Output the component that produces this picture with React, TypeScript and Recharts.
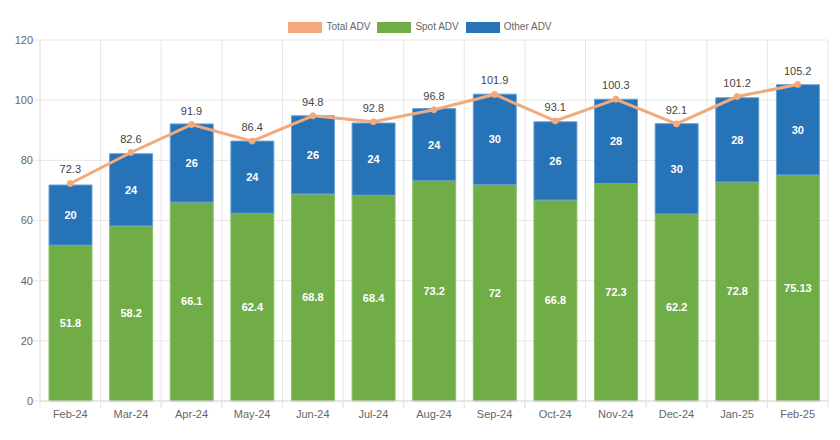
import {
  ComposedChart,
  Bar,
  Line,
  XAxis,
  YAxis,
  CartesianGrid,
  LabelList,
} from "recharts";

const months = ["Feb-24", "Mar-24", "Apr-24", "May-24", "Jun-24", "Jul-24", "Aug-24", "Sep-24", "Oct-24", "Nov-24", "Dec-24", "Jan-25", "Feb-25"];
const spotAdv = [51.8, 58.2, 66.1, 62.4, 68.8, 68.4, 73.2, 72, 66.8, 72.3, 62.2, 72.8, 75.13];
const otherAdv = [20, 24, 26, 24, 26, 24, 24, 30, 26, 28, 30, 28, 30];
const totalAdv = [72.3, 82.6, 91.9, 86.4, 94.8, 92.8, 96.8, 101.9, 93.1, 100.3, 92.1, 101.2, 105.2];
const yTicks = [0, 20, 40, 60, 80, 100, 120];

const legendItems = [
  { name: "Total ADV", color: "#F2A97C" },
  { name: "Spot ADV", color: "#70AD47" },
  { name: "Other ADV", color: "#2773B8" },
];

const data = months.map((m, i) => ({
  month: m,
  spot: spotAdv[i],
  other: otherAdv[i],
  total: totalAdv[i],
}));

const W = 840;
const H = 440;
const margin = { top: 40, right: 12, bottom: 0, left: 0 };
const yAxisWidth = 40;
const plotW = W - margin.left - margin.right - yAxisWidth;
const band = plotW / months.length;
const font = "'Liberation Sans', Arial, Helvetica, sans-serif";
const gridColor = "#e6e6e6";

function XTick(props: any) {
  const { x, y, payload } = props;
  return (
    <g>
      <line x1={x - band / 2} x2={x - band / 2} y1={y - 8} y2={y - 1} stroke={gridColor} />
      <line x1={x + band / 2} x2={x + band / 2} y1={y - 8} y2={y - 1} stroke={gridColor} />
      <text x={x} y={y + 9} textAnchor="middle" fill="#666" fontSize={11} fontFamily={font}>
        {payload.value}
      </text>
    </g>
  );
}

export default function App() {
  return (
    <div style={{ position: "relative", width: W, height: H, margin: -8, background: "#fff", fontFamily: font }}>
      <div
        style={{
          position: "absolute",
          top: 21,
          left: 0,
          width: W,
          display: "flex",
          justifyContent: "center",
          gap: 7,
          fontSize: 10,
          lineHeight: "12px",
          color: "#666",
          zIndex: 1,
        }}
      >
        {legendItems.map((it) => (
          <div key={it.name} style={{ display: "flex", alignItems: "center", gap: 4 }}>
            <span style={{ display: "inline-block", width: 34, height: 11, background: it.color }} />
            <span>{it.name}</span>
          </div>
        ))}
      </div>
      <ComposedChart width={W} height={H} data={data} margin={margin}>
        <CartesianGrid
          stroke={gridColor}
          verticalCoordinatesGenerator={({ offset }: any) =>
            months.map((_, i) => offset.left + i * band).concat([offset.left + plotW])
          }
        />
        <XAxis
          dataKey="month"
          height={39}
          axisLine={{ stroke: "#d9d9d9" }}
          tickLine={false}
          tick={<XTick />}
          interval={0}
        />
        <YAxis
          width={yAxisWidth}
          domain={[0, 120]}
          ticks={yTicks}
          axisLine={{ stroke: gridColor }}
          tickLine={{ stroke: gridColor }}
          tickSize={7}
          tickMargin={0}
          tick={{ fill: "#666", fontSize: 11, fontFamily: font }}
        />
        <Bar dataKey="spot" stackId="a" fill="#70AD47" stroke="#8cc26a" strokeWidth={1} barSize={43} isAnimationActive={false}>
          <LabelList dataKey="spot" position="center" fill="#fff" fontSize={11} fontWeight="bold" fontFamily={font} />
        </Bar>
        <Bar dataKey="other" stackId="a" fill="#2773B8" stroke="#6aa0d4" strokeWidth={1} barSize={43} isAnimationActive={false}>
          <LabelList dataKey="other" position="center" fill="#fff" fontSize={11} fontWeight="bold" fontFamily={font} />
        </Bar>
        <Line
          dataKey="total"
          type="linear"
          stroke="#F2A97C"
          strokeWidth={3}
          dot={{ r: 3, fill: "#F2A97C", stroke: "#F2A97C", strokeWidth: 1 }}
          isAnimationActive={false}
        >
          <LabelList dataKey="total" position="top" offset={10} fill="#444" fontSize={11} fontFamily={font} />
        </Line>
      </ComposedChart>
    </div>
  );
}
